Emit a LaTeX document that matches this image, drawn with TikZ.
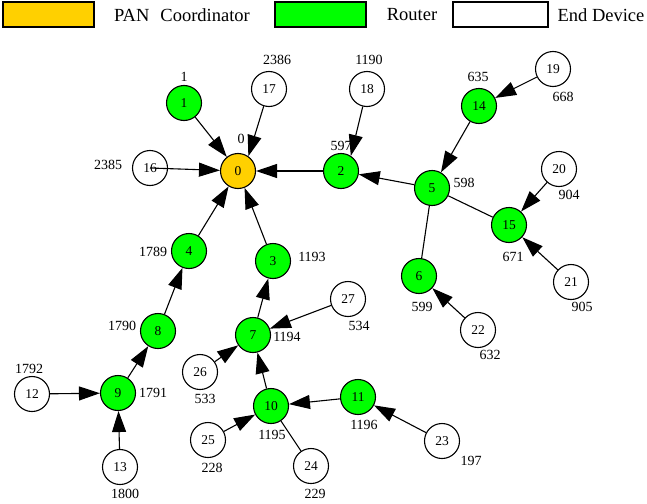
\documentclass[tikz,border=0pt]{standalone}
\usepackage{fontspec}
\setmainfont{Liberation Serif}
\usetikzlibrary{arrows.meta}
\definecolor{coordyellow}{RGB}{255,208,0}
\definecolor{routergreen}{RGB}{0,255,0}
\tikzset{
  dev/.style={circle,draw=black,line width=1.1pt,minimum size=35pt,inner sep=0pt,font=\fontsize{13.5}{14}\selectfont},
  coordnode/.style={dev,fill=coordyellow},
  routernode/.style={dev,fill=routergreen},
  endnode/.style={dev,fill=white},
  addr/.style={inner sep=0pt,font=\fontsize{14}{15}\selectfont},
  legbox/.style={draw=black,line width=1.2pt,minimum height=25pt,inner sep=0pt},
  legtext/.style={inner sep=0pt,font=\fontsize{18.5}{20}\selectfont},
  link/.style={line width=1.1pt,-{Triangle[length=21pt,width=14pt]}},
  plainlink/.style={line width=1.1pt}
}
\begin{document}
\begin{tikzpicture}[x=1pt,y=-1pt]
\useasboundingbox[fill=white] (0,0) rectangle (647,503);
% legend
\node[legbox,fill=coordyellow,minimum width=91pt] (lgy) at (48.5,14.5) {};
\node[legtext] (lgyt) at (182,15) {PAN\hspace{0.6em}Coordinator};
\node[legbox,fill=routergreen,minimum width=91pt] (lgg) at (320.5,14.5) {};
\node[legtext] (lggt) at (412,15) {Router};
\node[legbox,fill=white,minimum width=95pt] (lgw) at (500.5,14.5) {};
\node[legtext] (lgwt) at (601,15) {End Device};
% nodes
\node[coordnode] (n0) at (238,171) {0};
\node[routernode] (n1) at (184,103) {1};
\node[routernode] (n2) at (341,171) {2};
\node[routernode] (n3) at (273,261) {3};
\node[routernode] (n4) at (189,251) {4};
\node[routernode] (n5) at (432,188) {5};
\node[routernode] (n6) at (419,276) {6};
\node[routernode] (n7) at (253,335) {7};
\node[routernode] (n8) at (158,331) {8};
\node[routernode] (n9) at (118,393) {9};
\node[routernode] (n10) at (271,406) {10};
\node[routernode] (n11) at (358,397) {11};
\node[endnode] (n12) at (32,394) {12};
\node[endnode] (n13) at (120,467) {13};
\node[routernode] (n14) at (479,106) {14};
\node[routernode] (n15) at (509,225) {15};
\node[endnode] (n16) at (150,168) {16};
\node[endnode] (n17) at (269,89) {17};
\node[endnode] (n18) at (367,89) {18};
\node[endnode] (n19) at (553,69) {19};
\node[endnode] (n20) at (559,169) {20};
\node[endnode] (n21) at (571,282) {21};
\node[endnode] (n22) at (478,330) {22};
\node[endnode] (n23) at (442,441) {23};
\node[endnode] (n24) at (311,466) {24};
\node[endnode] (n25) at (208,440) {25};
\node[endnode] (n26) at (200,372) {26};
\node[endnode] (n27) at (348,299) {27};
% links
\draw[link] (n1) -- (n0);
\draw[link] (n17) -- (n0.55);
\draw[link] (n16.center) -- (n0);
\draw[link] (n2) -- (n0);
\draw[link] (n4) -- (n0);
\draw[link] (n3) -- (n0);
\draw[link] (n18) -- (n2.57);
\draw[link] (n5) -- (n2);
\draw[link] (n14) -- (n5);
\draw[link] (n19) -- (n14);
\draw[plainlink] (n5) -- (n15);
\draw[plainlink] (n5) -- (n6);
\draw[link] (n20) -- (n15);
\draw[link] (n21) -- (n15);
\draw[link] (n22) -- (n6);
\draw[link] (n8) -- (n4);
\draw[link] (n9) -- (n8);
\draw[link] (n12) -- (n9);
\draw[link] (n13) -- (n9);
\draw[link] (n7) -- (n3);
\draw[link] (n27) -- (n7);
\draw[link] (n26) -- (n7);
\draw[link] (n10) -- (n7);
\draw[link] (n25) -- (n10);
\draw[plainlink] (n10) -- (n24);
\draw[link] (n11) -- (n10);
\draw[link] (n23) -- (n11);
% address labels
\node[addr] (a0) at (241,139) {0};
\node[addr] (a1) at (184,77) {1};
\node[addr] (a2) at (341,146) {597};
\node[addr] (a3) at (312,257) {1193};
\node[addr] (a4) at (153,252) {1789};
\node[addr] (a5) at (464,183) {598};
\node[addr] (a6) at (422,307) {599};
\node[addr] (a7) at (287,337) {1194};
\node[addr] (a8) at (122,326) {1790};
\node[addr] (a9) at (153,393) {1791};
\node[addr] (a10) at (272,435) {1195};
\node[addr] (a11) at (364,425) {1196};
\node[addr] (a12) at (29,369) {1792};
\node[addr] (a13) at (125,494) {1800};
\node[addr] (a14) at (478,77) {635};
\node[addr] (a15) at (513,257) {671};
\node[addr] (a16) at (108,165) {2385};
\node[addr] (a17) at (277,60) {2386};
\node[addr] (a18) at (369,60) {1190};
\node[addr] (a19) at (563,97) {668};
\node[addr] (a20) at (569,195) {904};
\node[addr] (a21) at (582,307) {905};
\node[addr] (a22) at (490,355) {632};
\node[addr] (a23) at (471,461) {197};
\node[addr] (a24) at (315,494) {229};
\node[addr] (a25) at (212,468) {228};
\node[addr] (a26) at (205,399) {533};
\node[addr] (a27) at (359,326) {534};
\end{tikzpicture}
\end{document}
